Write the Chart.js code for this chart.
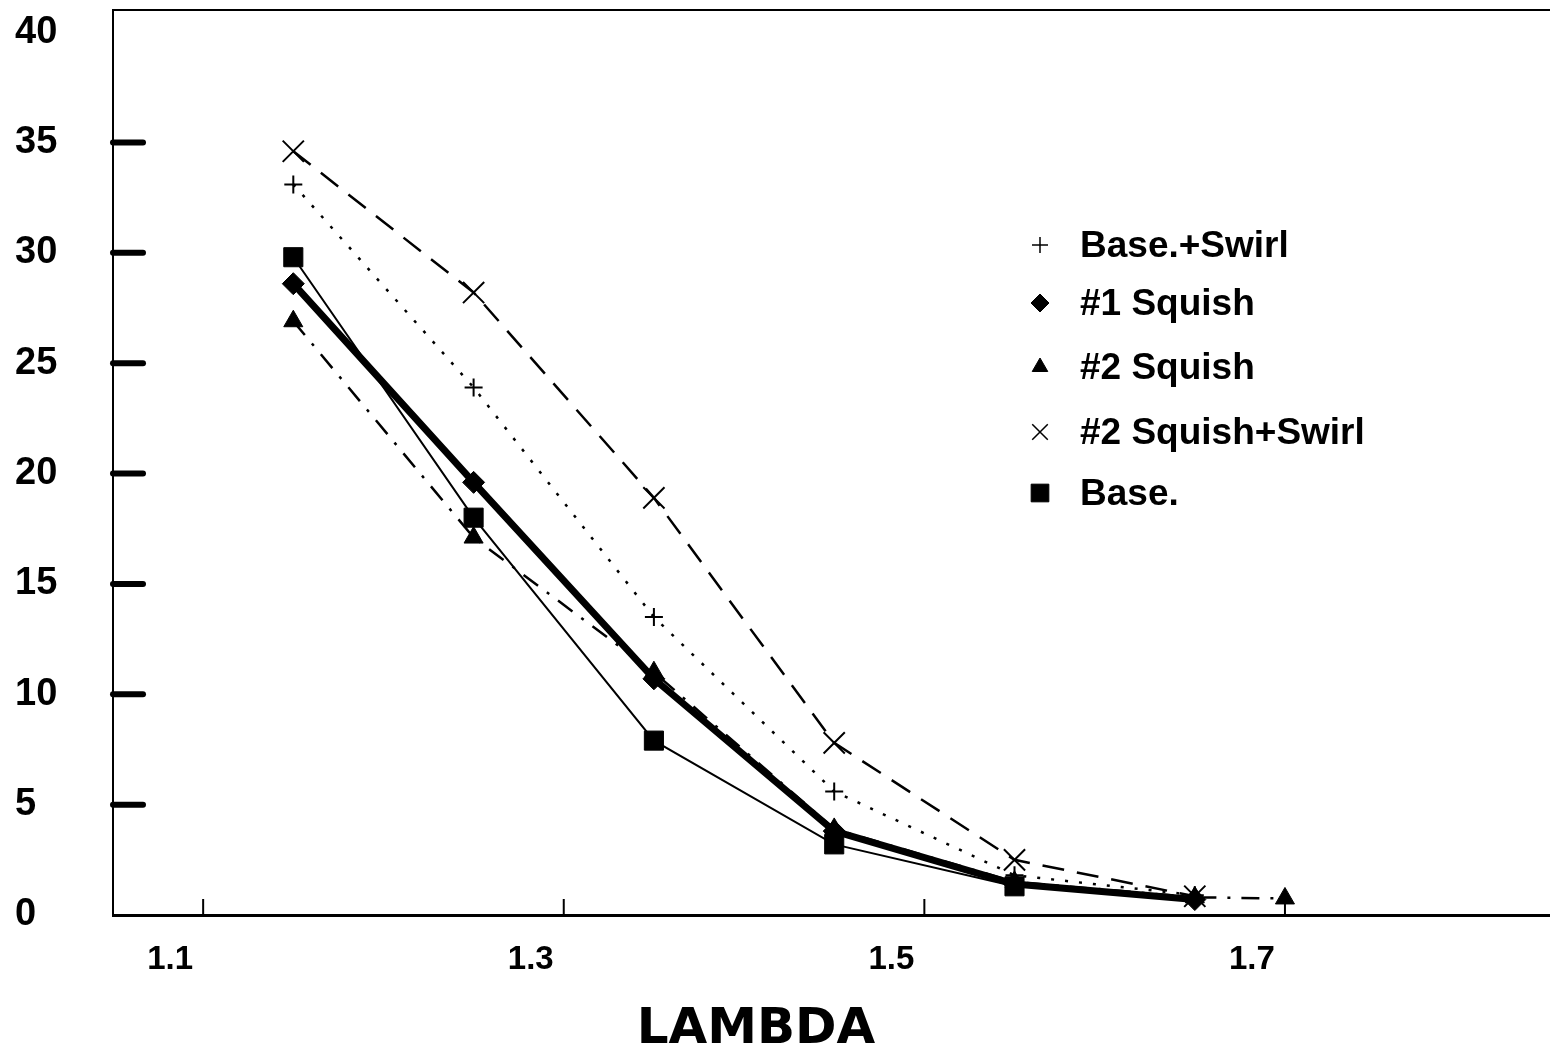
<!DOCTYPE html>
<html>
<head>
<meta charset="utf-8">
<script src="https://cdn.jsdelivr.net/npm/chart.js@4.4.0/dist/chart.umd.min.js"></script>
<style>
  body { margin: 0; background: #fff; }
  #wrap { width: 1550px; height: 1053px; }
</style>
</head>
<body>
<div id="wrap"><canvas id="myChart"></canvas></div>
<script>
// values
const lambda = [1.15, 1.25, 1.35, 1.45, 1.55, 1.65, 1.70];
const baseSwirl = [33.1, 23.9, 13.5, 5.6, 1.8, 0.9];
const squish1 = [28.6, 19.6, 10.7, 3.8, 1.4, 0.7];
const squish2 = [26.9, 17.1, 11.0, 3.9, 1.5, 0.8, 0.75];
const squish2Swirl = [34.6, 28.2, 18.9, 7.8, 2.5, 0.85];
const base = [29.8, 18.0, 7.9, 3.2, 1.3];
const seriesNames = ["Base.+Swirl", "#1 Squish", "#2 Squish", "#2 Squish+Swirl", "Base."];
const yTickLabels = [0, 5, 10, 15, 20, 25, 30, 35, 40];
const xTickLabels = ["1.1", "1.3", "1.5", "1.7"];
const xTitle = "LAMBDA";

Chart.defaults.font.family = "'Liberation Sans', Arial, sans-serif";
Chart.defaults.color = '#000';

function pts(vals) {
    return vals.map((v, i) => ({ x: lambda[i], y: v }));
}

// legend marker look (smaller than the plot markers)
const legendMarks = [
    { pointStyle: 'cross', radius: 8, borderWidth: 1.5 },
    { pointStyle: 'rectRot', radius: 9, borderWidth: 1 },
    { pointStyle: 'triangle', radius: 9, borderWidth: 1 },
    { pointStyle: 'crossRot', radius: 11, borderWidth: 1.5 },
    { pointStyle: 'rect', radius: 12.5, borderWidth: 1 }
];

const framePlugin = {
    id: 'frame',
    afterDraw(chart) {
        const { ctx, chartArea: a, scales: { x, y } } = chart;
        ctx.save();
        ctx.strokeStyle = '#000';
        ctx.fillStyle = '#000';
        // top border line
        ctx.lineWidth = 2;
        ctx.beginPath();
        ctx.moveTo(a.left, a.top);
        ctx.lineTo(a.right, a.top);
        ctx.stroke();
        // heavy y tick stubs, pointing into the plot
        ctx.lineWidth = 6;
        ctx.lineCap = 'round';
        y.ticks.forEach(t => {
            if (t.value <= 0 || t.value >= 40) return;
            const py = y.getPixelForValue(t.value);
            ctx.beginPath();
            ctx.moveTo(a.left, py);
            ctx.lineTo(a.left + 30, py);
            ctx.stroke();
        });
        // thin x ticks
        ctx.lineWidth = 2;
        ctx.lineCap = 'butt';
        x.ticks.forEach(t => {
            const px = x.getPixelForValue(t.value);
            ctx.beginPath();
            ctx.moveTo(px, a.bottom);
            ctx.lineTo(px, a.bottom - 16);
            ctx.stroke();
        });
        // axis title, set left of centre like the original
        ctx.font = "bold 50px 'DejaVu Sans', sans-serif";
        ctx.textAlign = 'center';
        ctx.textBaseline = 'middle';
        ctx.fillText(xTitle, 756, 1030);
        // legend
        const lx = 1040, tx = 1080;
        const rows = [245, 303, 367, 432, 493];
        ctx.font = "bold 37px 'Liberation Sans', Arial, sans-serif";
        ctx.textAlign = 'left';
        chart.data.datasets.forEach((ds, i) => {
            const m = legendMarks[i];
            ctx.lineWidth = m.borderWidth;
            Chart.helpers.drawPoint(ctx, { pointStyle: m.pointStyle, radius: m.radius, borderWidth: m.borderWidth, rotation: 0 }, lx, rows[i]);
            ctx.fillText(ds.label, tx, rows[i] + 2);
        });
        ctx.restore();
    }
};

const data = {
    datasets: [
        {
            label: seriesNames[0], data: pts(baseSwirl),
            borderColor: '#000', backgroundColor: '#000', borderWidth: 2.5,
            borderDash: [3, 11], pointStyle: 'cross', pointRadius: 9, pointBorderWidth: 2
        },
        {
            label: seriesNames[1], data: pts(squish1),
            borderColor: '#000', backgroundColor: '#000', borderWidth: 7,
            pointStyle: 'rectRot', pointRadius: 11, pointBorderWidth: 1
        },
        {
            label: seriesNames[2], data: pts(squish2),
            borderColor: '#000', backgroundColor: '#000', borderWidth: 2.5,
            borderDash: [18, 11, 3, 11], pointStyle: 'triangle', pointRadius: 11, pointBorderWidth: 1
        },
        {
            label: seriesNames[3], data: pts(squish2Swirl),
            borderColor: '#000', backgroundColor: '#000', borderWidth: 2.5,
            borderDash: [22, 13], pointStyle: 'crossRot', pointRadius: 15, pointBorderWidth: 2
        },
        {
            label: seriesNames[4], data: pts(base),
            borderColor: '#000', backgroundColor: '#000', borderWidth: 2,
            pointStyle: 'rect', pointRadius: 13.5, pointBorderWidth: 1
        }
    ]
};

const config = {
    type: 'line',
    data,
    options: {
        responsive: true,
        maintainAspectRatio: false,
        animation: false,
        layout: { autoPadding: false, padding: { left: 15, top: 10, right: 0, bottom: 0 } },
        elements: { line: { tension: 0, fill: false } },
        plugins: { legend: { display: false }, tooltip: { enabled: false } },
        scales: {
            x: {
                type: 'linear', min: 1.05, max: 1.847,
                border: { display: true, color: '#000', width: 3 },
                grid: { display: false, drawTicks: false },
                ticks: {
                    stepSize: 0.1, includeBounds: false, autoSkip: false, maxRotation: 0,
                    labelOffset: -33, padding: 25,
                    font: { size: 33, weight: 'bold' },
                    callback: v => {
                        const s = v.toFixed(1);
                        return xTickLabels.includes(s) ? s : null;
                    }
                },
                afterFit(s) { s.height = 138; s.paddingLeft = 0; s.paddingRight = 0; }
            },
            y: {
                min: 0, max: 41,
                border: { display: true, color: '#000', width: 2 },
                grid: { display: false, drawTicks: false },
                ticks: {
                    stepSize: 5, includeBounds: false, crossAlign: 'far', padding: 0,
                    font: { size: 38, weight: 'bold' },
                    callback: v => yTickLabels.includes(v) ? String(v) : null
                },
                afterFit(s) { s.width = 98; s.paddingTop = 0; s.paddingBottom = 0; }
            }
        }
    },
    plugins: [framePlugin]
};

var myChart = new Chart(document.getElementById('myChart'), config);
</script>
</body>
</html>
